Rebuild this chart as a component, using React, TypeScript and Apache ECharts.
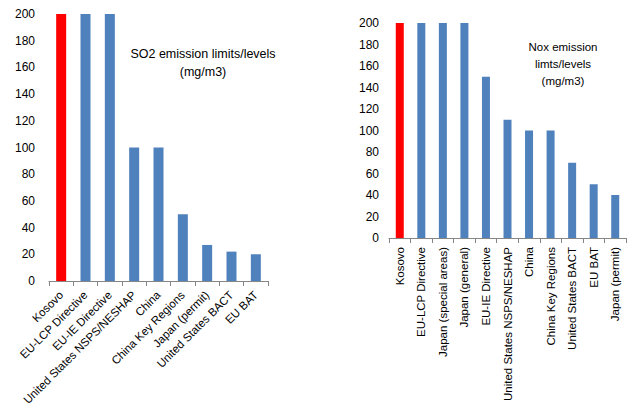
import React, { useEffect, useRef } from "react";
import * as echarts from "echarts";

const so2Categories = [
  "Kosovo",
  "EU-LCP Directive",
  "EU-IE Directive",
  "United States NSPS/NESHAP",
  "China",
  "China Key Regions",
  "Japan (permit)",
  "United States BACT",
  "EU BAT",
];
const so2Values = [200, 200, 200, 100, 100, 50, 27, 22, 20];

const noxCategories = [
  "Kosovo",
  "EU-LCP Directive",
  "Japan (special areas)",
  "Japan (general)",
  "EU-IE Directive",
  "United States NSPS/NESHAP",
  "China",
  "China Key Regions",
  "United States BACT",
  "EU BAT",
  "Japan (permit)",
];
const noxValues = [200, 200, 200, 200, 150, 110, 100, 100, 70, 50, 40];

const highlight = "Kosovo";
const RED = "#ff0000";
const BLUE = "#4f81bd";
const FONT = "Liberation Sans";

export default function App() {
  const ref = useRef<HTMLDivElement>(null);
  useEffect(() => {
    if (!ref.current) return;
    const chart = echarts.init(ref.current, undefined, { renderer: "svg" });
    const colorData = (cats: string[], vals: number[]) =>
      vals.map((v, i) => ({
        value: v,
        itemStyle: { color: cats[i] === highlight ? RED : BLUE },
      }));
    const xAxisCommon = {
      type: "category" as const,
      axisLine: { show: true, lineStyle: { color: "#868686", width: 1 } },
      axisTick: { show: true, length: 5, lineStyle: { color: "#868686" } },
      splitLine: { show: false },
    };
    const yAxisCommon = {
      type: "value" as const,
      min: 0,
      max: 200,
      interval: 20,
      axisLine: { show: false },
      axisTick: { show: false },
      splitLine: { show: false },
    };
    chart.setOption({
      animation: false,
      backgroundColor: "#fff",
      grid: [
        { left: 49, right: 372, top: 14, bottom: 138 },
        { left: 389, right: 14, top: 23, bottom: 181 },
      ],
      xAxis: [
        {
          ...xAxisCommon,
          gridIndex: 0,
          data: so2Categories,
          axisLabel: {
            interval: 0,
            rotate: 45,
            color: "#000",
            fontFamily: FONT,
            fontSize: 11.5,
            margin: 12,
          },
        },
        {
          ...xAxisCommon,
          gridIndex: 1,
          data: noxCategories,
          axisLabel: {
            interval: 0,
            rotate: 90,
            color: "#000",
            fontFamily: FONT,
            fontSize: 11.5,
            margin: 9,
          },
        },
      ],
      yAxis: [
        {
          ...yAxisCommon,
          gridIndex: 0,
          axisLabel: { color: "#000", fontFamily: FONT, fontSize: 12, margin: 14 },
        },
        {
          ...yAxisCommon,
          gridIndex: 1,
          axisLabel: { color: "#000", fontFamily: FONT, fontSize: 12, margin: 10 },
        },
      ],
      series: [
        {
          type: "bar",
          xAxisIndex: 0,
          yAxisIndex: 0,
          barWidth: 10,
          data: colorData(so2Categories, so2Values),
        },
        {
          type: "bar",
          xAxisIndex: 1,
          yAxisIndex: 1,
          barWidth: 8,
          data: colorData(noxCategories, noxValues),
        },
      ],
      graphic: [
        {
          type: "text",
          x: 203,
          y: 45,
          style: {
            text: "SO2 emission limits/levels\n(mg/m3)",
            fill: "#000",
            font: `12.5px "${FONT}"`,
            textAlign: "center",
            lineHeight: 18,
          },
        },
        {
          type: "text",
          x: 563,
          y: 38,
          style: {
            text: "Nox emission\nlimts/levels\n(mg/m3)",
            fill: "#000",
            font: `11.5px "${FONT}"`,
            textAlign: "center",
            lineHeight: 17,
          },
        },
      ],
    });
    return () => chart.dispose();
  }, []);
  return (
    <div
      ref={ref}
      style={{ position: "absolute", left: 0, top: 0, width: 640, height: 419 }}
    />
  );
}
